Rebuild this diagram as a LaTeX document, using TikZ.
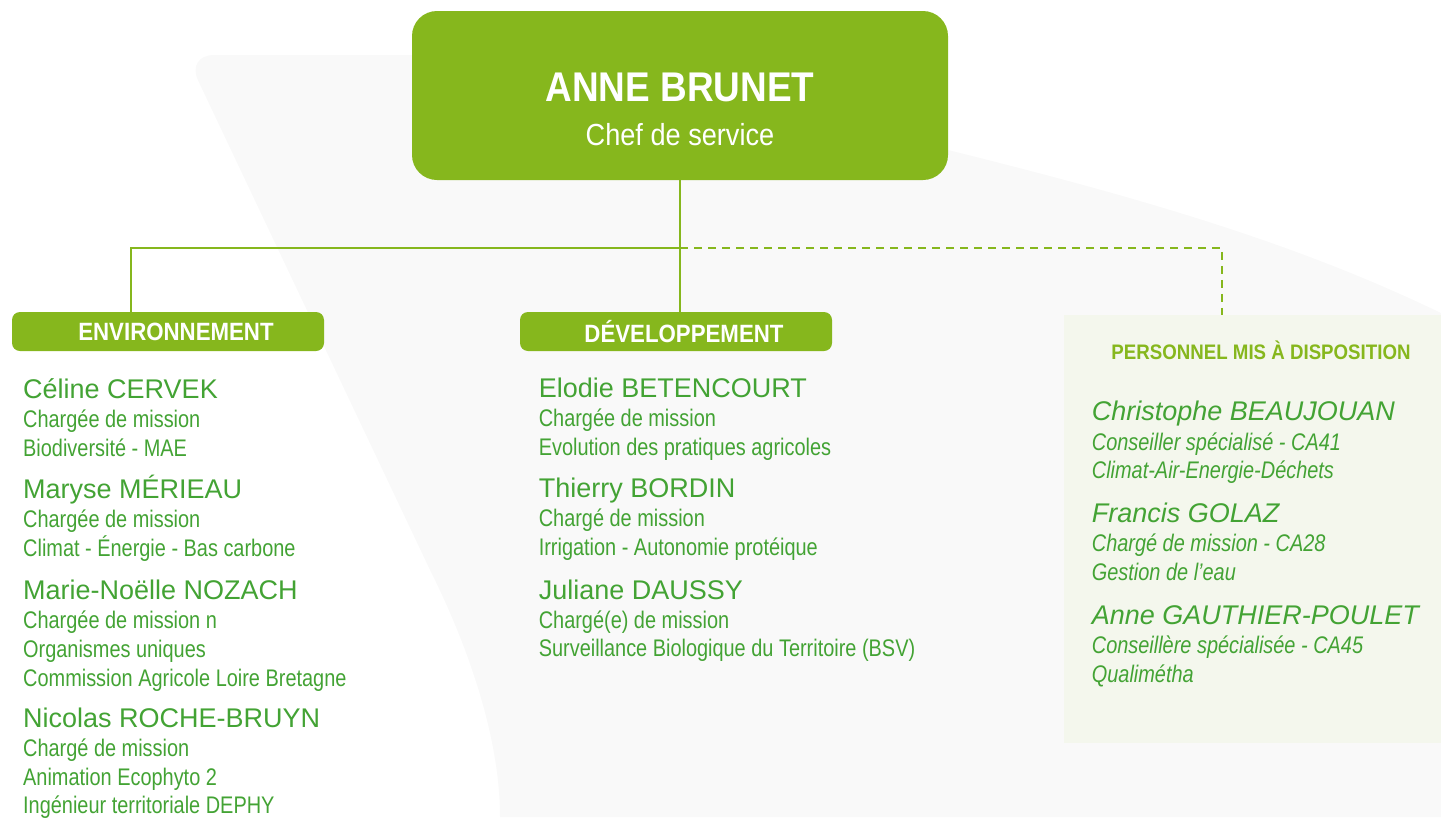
\documentclass[tikz,border=0pt]{standalone}
\usepackage{fontspec}
\setmainfont{Liberation Sans}
\newfontfamily\narrowfont[FakeStretch=0.83]{Liberation Sans}
\newfontfamily\boldnarrow[FakeStretch=0.89]{Liberation Sans}
\usepackage{tikz}
\usetikzlibrary{positioning}
\definecolor{leaf}{RGB}{134,183,29}
\definecolor{ink}{RGB}{67,163,52}
\definecolor{fog}{RGB}{249,249,249}
\definecolor{mint}{RGB}{244,247,237}
\tikzset{
	dept/.style={fill=leaf,rounded corners=8pt,minimum width=312pt,minimum height=39pt,inner sep=0pt},
	depttext/.style={xshift=8pt,inner sep=0pt,text=white,font=\boldnarrow\bfseries\fontsize{25}{25}\selectfont},
	nm/.style={anchor=base west,inner sep=0pt,text=ink,font=\fontsize{27}{30}\selectfont},
	sb/.style={anchor=base west,inner sep=0pt,text=ink,font=\narrowfont\fontsize{24}{28}\selectfont},
	nmi/.style={nm,font=\fontsize{27}{30}\selectfont\itshape},
	sbi/.style={sb,font=\narrowfont\fontsize{24}{28}\selectfont\itshape},
	link/.style={draw=leaf,line width=1.6pt}
}
\begin{document}
\begin{tikzpicture}[x=1pt,y=-1pt]
	\useasboundingbox (0,0) rectangle (1441,817);
	\fill[fog] (500,817) .. controls (500,740) and (470,650) .. (430,570) [rounded corners=28pt] -- (186,55) -- (900,55) [sharp corners] -- (900,140) -- (948,150) .. controls (1150,200) and (1300,245) .. (1441,313) -- (1441,817) -- cycle;
	\node[fill=leaf,rounded corners=25pt,minimum width=536pt,minimum height=169pt] (head) at (680,95.5) {};
	\node[anchor=base,inner sep=0pt,text=white,font=\boldnarrow\bfseries\fontsize{41.5}{44}\selectfont] (boss) at (680,101.7) {ANNE BRUNET};
	\node[below=43.3pt of boss.base,anchor=base,inner sep=0pt,text=white,font=\boldnarrow\fontsize{30.5}{32}\selectfont] (role) {Chef de service};
	\node[dept,label={[depttext]center:ENVIRONNEMENT}] (env) at (168,331.5) {};
	\node[dept,label={[depttext]center:DÉVELOPPEMENT}] (dev) at (676,331.5) {};
	\node[fill=mint,minimum width=377pt,minimum height=428pt,anchor=north west,inner sep=0pt] (mad) at (1064,315) {};
	\node[anchor=base,inner sep=0pt,text=leaf,font=\boldnarrow\bfseries\fontsize{21}{23}\selectfont] (madtitle) at (1261,359.3) {PERSONNEL MIS À DISPOSITION};
	\coordinate (fork) at (680,248);
	\draw[link] (head.south) -- (dev.north -| head.south);
	\draw[link] (fork) -| ([xshift=-37pt]env.north);
	\draw[link,dash pattern=on 8pt off 6pt] (fork) -| ([xshift=-30.5pt]mad.north);

	\node[nm] (celine) at (23,398.3) {Céline CERVEK};
	\node[below=29pt of celine.base west,sb] (celine1) {Chargée de mission};
	\node[below=29pt of celine1.base west,sb] (celine2) {Biodiversité - MAE};
	\node[below=42.5pt of celine2.base west,nm] (maryse) {Maryse MÉRIEAU};
	\node[below=29pt of maryse.base west,sb] (maryse1) {Chargée de mission};
	\node[below=29pt of maryse1.base west,sb] (maryse2) {Climat - Énergie - Bas carbone};
	\node[below=42.5pt of maryse2.base west,nm] (marie) {Marie-Noëlle NOZACH};
	\node[below=29pt of marie.base west,sb] (marie1) {Chargée de mission n};
	\node[below=29pt of marie1.base west,sb] (marie2) {Organismes uniques};
	\node[below=29pt of marie2.base west,sb] (marie3) {Commission Agricole Loire Bretagne};
	\node[below=41.5pt of marie3.base west,nm] (nicolas) {Nicolas ROCHE-BRUYN};
	\node[below=29pt of nicolas.base west,sb] (nicolas1) {Chargé de mission};
	\node[below=29pt of nicolas1.base west,sb] (nicolas2) {Animation Ecophyto 2};
	\node[below=28pt of nicolas2.base west,sb] (nicolas3) {Ingénieur territoriale DEPHY};

	\node[nm] (elodie) at (538.6,397.7) {Elodie BETENCOURT};
	\node[below=29pt of elodie.base west,sb] (elodie1) {Chargée de mission};
	\node[below=29pt of elodie1.base west,sb] (elodie2) {Evolution des pratiques agricoles};
	\node[below=42pt of elodie2.base west,nm] (thierry) {Thierry BORDIN};
	\node[below=29pt of thierry.base west,sb] (thierry1) {Chargé de mission};
	\node[below=29pt of thierry1.base west,sb] (thierry2) {Irrigation - Autonomie protéique};
	\node[below=43.5pt of thierry2.base west,nm] (juliane) {Juliane DAUSSY};
	\node[below=29pt of juliane.base west,sb] (juliane1) {Chargé(e) de mission};
	\node[below=28.5pt of juliane1.base west,sb] (juliane2) {Surveillance Biologique du Territoire (BSV)};

	\node[nmi] (christophe) at (1091.7,420.7) {Christophe BEAUJOUAN};
	\node[below=29.3pt of christophe.base west,sbi] (christophe1) {Conseiller spécialisé - CA41};
	\node[below=28.5pt of christophe1.base west,sbi] (christophe2) {Climat-Air-Energie-Déchets};
	\node[below=44pt of christophe2.base west,nmi] (francis) {Francis GOLAZ};
	\node[below=29.3pt of francis.base west,sbi] (francis1) {Chargé de mission - CA28};
	\node[below=28.5pt of francis1.base west,sbi] (francis2) {Gestion de l’eau};
	\node[below=44.3pt of francis2.base west,nmi] (anne) {Anne GAUTHIER-POULET};
	\node[below=28.5pt of anne.base west,sbi] (anne1) {Conseillère spécialisée - CA45};
	\node[below=29pt of anne1.base west,sbi] (anne2) {Qualimétha};
\end{tikzpicture}
\end{document}
